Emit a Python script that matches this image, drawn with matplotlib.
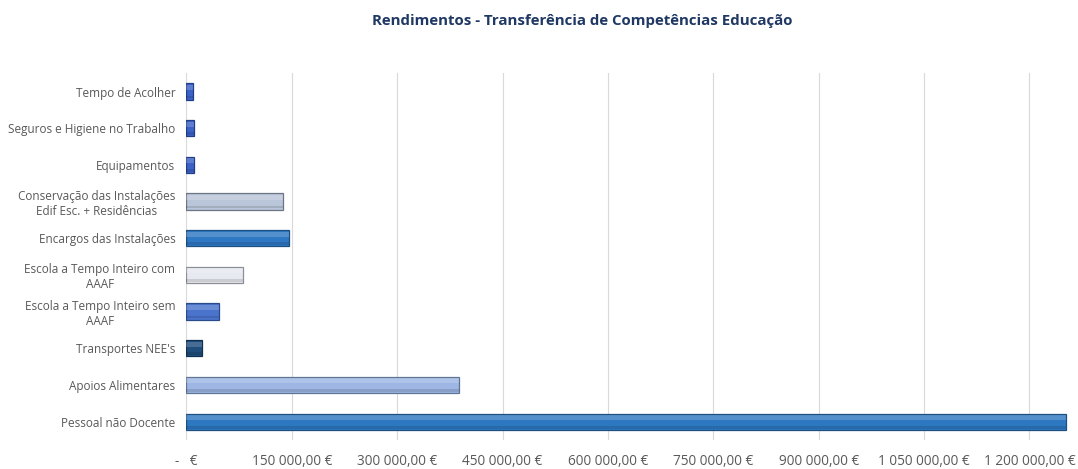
import matplotlib
matplotlib.use('Agg')
import matplotlib.pyplot as plt
from matplotlib.ticker import FuncFormatter, MultipleLocator
import numpy as np

# dados (de baixo para cima)
categories = [
    "Pessoal não Docente",
    "Apoios Alimentares",
    "Transportes NEE's",
    "Escola a Tempo Inteiro sem\nAAAF",
    "Escola a Tempo Inteiro com\nAAAF",
    "Encargos das Instalações",
    "Conservação das Instalações\nEdif Esc. + Residências",
    "Equipamentos",
    "Seguros e Higiene no Trabalho",
    "Tempo de Acolher",
]
values = [1252000, 387400, 22000, 46900, 80300, 146400, 137200, 10700, 10700, 9200]
colors = ['#2e78c2', '#9db6e4', '#1f4e7d', '#4a74cc', '#e6e9ef',
          '#2f78c4', '#b9c5d9', '#3c62c8', '#3c62c8', '#3c62c8']
edges = ['#1d4f80', '#5f7392', '#10304f', '#2b4a8a', '#8a8f98',
         '#1d4f80', '#6d7584', '#223e86', '#223e86', '#223e86']

plt.rcParams['font.family'] = ['Open Sans', 'DejaVu Sans']

fig = plt.figure(figsize=(10.78, 4.69), dpi=100)
ax = fig.add_axes([0.173, 0.062, 0.8177, 0.782])

y = np.arange(len(categories))
h = 0.44
ax.barh(y, values, height=h, color=colors, edgecolor=edges, linewidth=0.9, zorder=3)
# relevo suave: claro em cima, escuro em baixo
ax.barh(y + h * 0.25, values, height=h * 0.3, color='white', alpha=0.18,
        linewidth=0, zorder=4)
ax.barh(y - h * 0.34, values, height=h * 0.18, color='black', alpha=0.12,
        linewidth=0, zorder=4)

ax.set_ylim(-0.5, len(categories) - 0.5)
ax.set_xlim(0, 1255000)
ax.set_yticks(y)
ax.set_yticklabels(categories, fontsize=8.5, color='#595959', multialignment='center')


def euro(v, pos):
    if v == 0:
        return "-   €"
    s = f"{v:,.2f}".replace(",", " ").replace(".", ",")
    return s + " €"


ax.xaxis.set_major_locator(MultipleLocator(150000))
ax.xaxis.set_major_formatter(FuncFormatter(euro))
ax.tick_params(axis='x', labelsize=9.8, colors='#595959', length=0, pad=10)
ax.tick_params(axis='y', length=0, pad=8)
ax.grid(axis='x', color='#d9d9d9', linewidth=0.8, zorder=0)
for s in ax.spines.values():
    s.set_visible(False)

fig.text(0.54, 0.955, "Rendimentos - Transferência de Competências Educação",
         ha='center', va='center', fontsize=10.8, fontweight='bold', color='#1f3864')

fig.savefig('out.png', dpi=100)
